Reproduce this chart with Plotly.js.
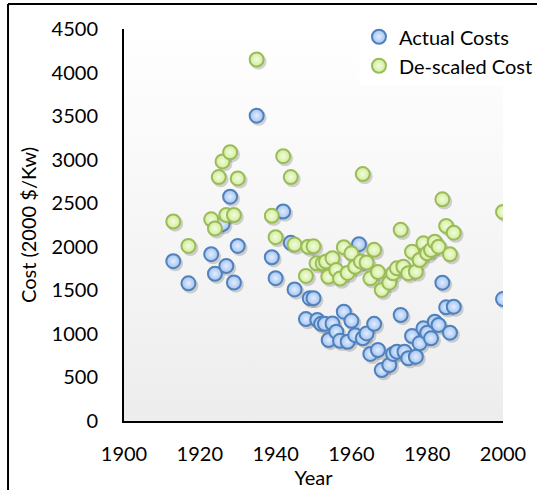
<!DOCTYPE html>
<html>
<head>
<meta charset="utf-8">
<script src="https://cdn.plot.ly/plotly-3.0.1.min.js"></script>
<style>html,body{margin:0;padding:0;background:#fff;}#chart{width:537px;height:490px;}</style>
</head>
<body>
<div id="chart"></div>
<script>
// Actual Costs
var actualYears = [1913,1917,1923,1924,1926,1927,1928,1929,1930,1935,1939,1940,1942,1944,1945,1948,1949,1950,1951,1952,1953,1954,1955,1956,1957,1958,1959,1960,1961,1962,1963,1964,1965,1966,1967,1968,1970,1971,1972,1973,1974,1975,1976,1977,1978,1979,1980,1981,1982,1983,1984,1985,1986,1987,2000];
var actualCosts = [1835,1580,1915,1690,2260,1780,2575,1590,2010,3505,1880,1640,2405,2045,1510,1170,1410,1410,1160,1115,1115,930,1120,1025,920,1255,910,1150,985,2030,950,1005,770,1115,815,585,643,770,796,1217,796,720,976,738,892,1064,1014,949,1140,1102,1588,1305,1014,1312,1400];
// De-scaled Cost
var descaledYears = [1913,1917,1923,1924,1925,1926,1927,1928,1929,1930,1935,1939,1940,1942,1944,1945,1948,1948.6,1950,1950.8,1952.4,1953.3,1953.9,1955,1956,1957,1958,1959,1960,1961,1962.5,1963,1964,1965,1966,1967,1968,1970,1971,1972,1973,1973.7,1975,1976,1977,1978,1979,1980,1981,1982,1983,1984,1985,1986,1987,2000];
var descaledCosts = [2290,2010,2315,2210,2800,2980,2365,3085,2365,2785,4150,2355,2110,3040,2800,2025,1665,2000,2005,1810,1810,1830,1655,1868,1733,1635,1995,1700,1925,1771,1830,2835,1820,1638,1965,1710,1504,1588,1696,1753,2195,1771,1696,1944,1714,1848,2040,1925,1963,2058,2001,2545,2239,1914,2162,2400];
var xTicks = [1900,1920,1940,1960,1980,2000];
var yTicks = [0,500,1000,1500,2000,2500,3000,3500,4000,4500];

var FONT = 'Lato, "Open Sans", sans-serif';
var SHADOW = 'rgba(0,0,0,0.16)';

var traces = [
  // soft drop shadows (base axes are shifted ~2px right/down)
  {type: 'scatter', mode: 'markers', x: actualYears, y: actualCosts, xaxis: 'x', yaxis: 'y',
   showlegend: false, hoverinfo: 'skip', marker: {size: 16, color: SHADOW, line: {width: 0}}},
  {type: 'scatter', mode: 'markers', x: descaledYears, y: descaledCosts, xaxis: 'x', yaxis: 'y',
   showlegend: false, hoverinfo: 'skip', marker: {size: 16, color: SHADOW, line: {width: 0}}},
  {
    type: 'scatter', mode: 'markers', name: 'Actual Costs', xaxis: 'x2', yaxis: 'y2',
    x: actualYears, y: actualCosts,
    marker: {size: 14, color: '#a3c3f1', gradient: {type: 'radial', color: '#e2edfd'},
             line: {color: '#4f81bd', width: 2}}
  },
  {
    type: 'scatter', mode: 'markers', name: 'De-scaled Cost', xaxis: 'x2', yaxis: 'y2',
    x: descaledYears, y: descaledCosts,
    marker: {size: 14, color: '#d1ed9a', gradient: {type: 'radial', color: '#f2fbdf'},
             line: {color: '#9bbb59', width: 2}}
  }
];

var grad = 'data:image/svg+xml;utf8,' + encodeURIComponent(
  '<svg xmlns="http://www.w3.org/2000/svg" width="10" height="100" preserveAspectRatio="none">' +
  '<defs><linearGradient id="g" x1="0" y1="0" x2="0" y2="1">' +
  '<stop offset="0" stop-color="#ffffff"/><stop offset="1" stop-color="#ededed"/></linearGradient></defs>' +
  '<rect width="10" height="100" fill="url(#g)"/></svg>');

var hidden = {showgrid: false, zeroline: false, showline: false, showticklabels: false, ticks: ''};

var layout = {
  width: 537, height: 490,
  margin: {l: 124, r: 34, t: 29, b: 69, autoexpand: false},
  paper_bgcolor: '#ffffff',
  plot_bgcolor: 'rgba(0,0,0,0)',
  font: {family: FONT, size: 20, color: '#000'},
  showlegend: true,
  legend: {x: 0.62, y: 1.03, xanchor: 'left', yanchor: 'top', bgcolor: '#ffffff',
           font: {family: FONT, size: 20, color: '#000'}, itemwidth: 30, tracegroupgap: 0},
  xaxis: Object.assign({range: [1899.5, 1999.5]}, hidden),
  yaxis: Object.assign({range: [25, 4525]}, hidden),
  xaxis2: {
    overlaying: 'x', side: 'bottom',
    range: [1900, 2000], tickvals: xTicks, ticktext: xTicks.map(String),
    showgrid: false, zeroline: false, showline: true, linecolor: '#000', linewidth: 2,
    ticks: '', ticklabelstandoff: 14,
    title: {text: 'Year', font: {family: FONT, size: 20}, standoff: 2},
    automargin: false
  },
  yaxis2: {
    overlaying: 'y', side: 'left',
    range: [0, 4500], tickvals: yTicks, ticktext: yTicks.map(String),
    showgrid: false, zeroline: false, showline: true, linecolor: '#000', linewidth: 2,
    ticks: '', ticklabelstandoff: 20,
    title: {text: 'Cost (2000 $/Kw)', font: {family: FONT, size: 20}, standoff: 10},
    automargin: false
  },
  images: [{source: grad, xref: 'paper', yref: 'paper', x: 0, y: 1, sizex: 1, sizey: 1,
            xanchor: 'left', yanchor: 'top', sizing: 'stretch', layer: 'below'}],
  shapes: [
    {type: 'line', xref: 'paper', yref: 'paper', x0: -0.306, x1: -0.306, y0: 1.064, y1: -0.2,
     line: {color: '#000', width: 2}},
    {type: 'line', xref: 'paper', yref: 'paper', x0: -0.306, x1: 1.2, y0: 1.064, y1: 1.064,
     line: {color: '#000', width: 2}}
  ]
};

Plotly.newPlot('chart', traces, layout, {displayModeBar: false, staticPlot: true});
</script>
</body>
</html>
